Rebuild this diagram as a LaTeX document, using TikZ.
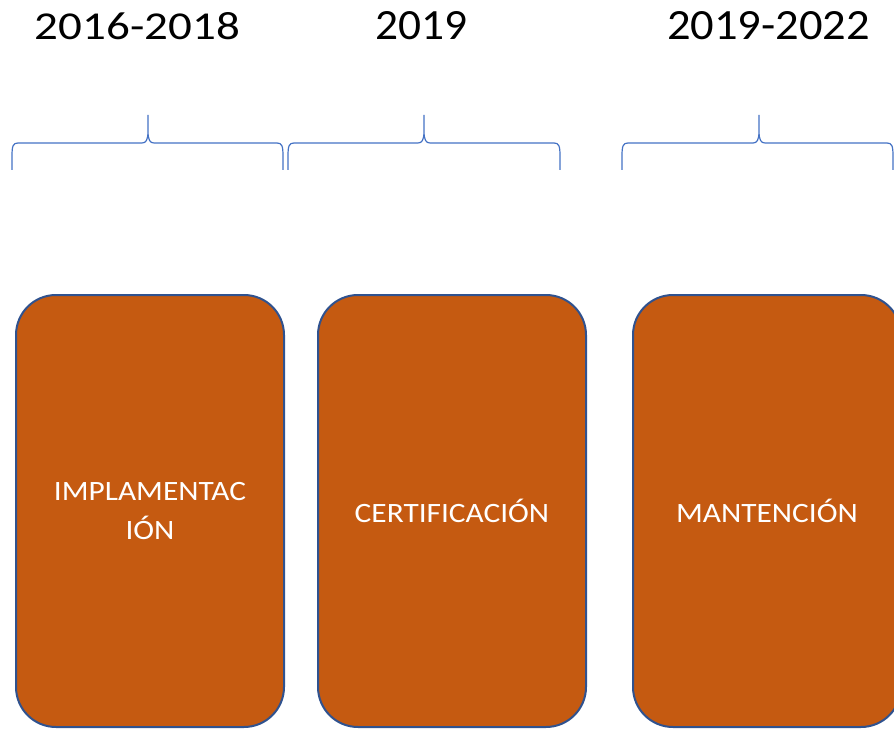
\documentclass[tikz,border=0pt]{standalone}
\usepackage{fontspec}
\setmainfont{Carlito}
\usepackage{graphicx}
\definecolor{boxfill}{HTML}{C55A11}
\definecolor{boxline}{HTML}{2F528F}
\definecolor{bracecol}{HTML}{4472C4}
\tikzset{
  phase/.style={draw=boxline, line width=2pt, fill=boxfill, rounded corners=40pt,
    minimum width=268pt, minimum height=432pt, inner sep=0pt, text=white,
    align=center, font=\fontsize{28}{39}\selectfont},
  yearlabel/.style={anchor=base, inner sep=0pt, text=black},
  bracestyle/.style={draw=bracecol, line width=1.2pt}
}
\newcommand{\mybrace}[3]{%
  \draw[bracestyle] (#1,170) -- (#1,156) .. controls (#1,146) and ({#1+1},143) .. ({#1+6},143)
    -- ({#2-6},143) .. controls ({#2-2},143) and (#2,140) .. (#2,131) -- (#2,115)
    (#2,131) .. controls (#2,140) and ({#2+2},143) .. ({#2+6},143)
    -- ({#3-6},143) .. controls ({#3-1},143) and (#3,146) .. (#3,156) -- (#3,170);}
\newcommand{\wide}[1]{\scalebox{1.12}[1]{#1}}
\begin{document}
\begin{tikzpicture}[x=1pt,y=-1pt]
\useasboundingbox (0,0) rectangle (894,730);
\clip (0,0) rectangle (894,730);
\node[yearlabel] (y1) at (137.5,40) {\resizebox{205pt}{27pt}{\fontsize{40}{40}\selectfont 2016-2018}};
\node[yearlabel] (y2) at (421,40) {\resizebox{92pt}{28pt}{\fontsize{40}{40}\selectfont 2019}};
\node[yearlabel] (y3) at (768.5,40) {\resizebox{203pt}{28pt}{\fontsize{40}{40}\selectfont 2019-2022}};
\mybrace{12}{148}{283}
\mybrace{288}{424}{560}
\mybrace{622}{759}{893}
\node[phase] (b1) at (150,511) {\wide{IMPLAMENTAC}\\\wide{IÓN}};
\node[phase] (b2) at (452,511) {\wide{CERTIFICACIÓN}};
\node[phase] (b3) at (767,511) {\wide{MANTENCIÓN}};
\end{tikzpicture}
\end{document}
